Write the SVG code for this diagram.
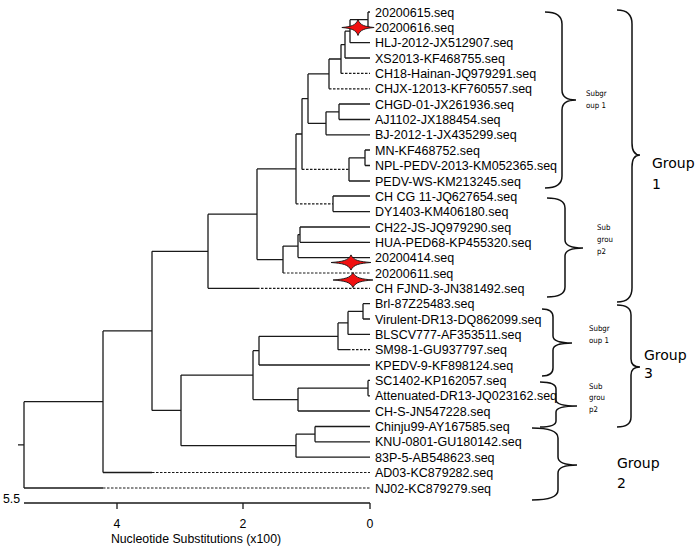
<svg xmlns="http://www.w3.org/2000/svg" width="700" height="552" viewBox="0 0 700 552">
<style>
.e{stroke:#1a1a1a;stroke-width:1.3;fill:none}
.d{stroke:#1a1a1a;stroke-width:1.2;fill:none;stroke-dasharray:2.5 1.5}
.br{stroke:#111;stroke-width:1.5;fill:none}
.lb{font-family:"Liberation Sans",Arial,sans-serif;font-size:12.5px;fill:#000}
.ax{font-family:"Liberation Sans",Arial,sans-serif;font-size:12.3px;fill:#000}
.sg{font-family:"DejaVu Sans Condensed","DejaVu Sans",Verdana,sans-serif;font-size:7.8px;fill:#000}
.gp{font-family:"DejaVu Sans",Verdana,sans-serif;font-size:14px;fill:#000}
.st{fill:#f01010;stroke:#111;stroke-width:0.9;stroke-linejoin:miter}
</style>
<defs>
<path id="star" d="M-19,0C-8,-1 -2.5,-2 0,-8C2.5,-2 8,-1 19,0C8,1 2.5,2 0,8C-2.5,2 -8,1 -19,0Z"/>
</defs>
<rect width="700" height="552" fill="#fff"/>
<g id="connectors">
<path class="e" d="M368,12V27.4M368,12H370M368,27.4H370
M350,19.7V42.7M350,19.7H368M350,42.7H370
M345,31.2V58M345,31.2H350M345,58H370
M341,44.6V73.4M341,44.6H345
M329,59V88.8M329,59H341
M339,104V119.5M339,104H370M339,119.5H370
M326,111.8V134.8M326,111.8H339M326,134.8H370
M308,73.9V123.3M308,73.9H329M308,123.3H326
M365,150V165.5M365,150H370M365,165.5H370
M349,157.8V181M349,157.8H365M349,181H370
M302,98.6V169.4M302,98.6H308
M333,196V211.6M333,196H370M333,211.6H370
M296,134V203.8M296,134H302
M300,227V242.3M300,227H370M300,242.3H370
M298,234.6V257.6M298,234.6H300M298,257.6H370
M283,246.1V273M283,246.1H298
M257,168.9V259.6M257,168.9H296M257,259.6H283
M208,214.2V288.3M208,214.2H257M208,288.3H257
M363,303.7V319M363,303.7H370M363,319H370
M348,311.4V334.4M348,311.4H363M348,334.4H370
M338,322.9V349.7M338,322.9H348M338,349.7H348
M259,336.3V365M259,336.3H338M259,365H370
M368,380.4V395.8M368,380.4H370M368,395.8H370
M298,388.1V411M298,388.1H368M298,411H370
M253,350.7V399.6M253,350.7H259M253,399.6H298
M315,426.5V441.8M315,426.5H370M315,441.8H370
M296,434.2V457.2M296,434.2H315M296,457.2H370
M181,375.1V445.7M181,375.1H253M181,445.7H296
M152,251.3V410.4M152,251.3H208M152,410.4H181
M103,330.9V472.5M103,330.9H152M103,472.5H152
M24,401.7V488M24,401.7H103M24,488H103M18,444.8H24"/>
<path class="d" d="M341,73.4H370M329,88.8H370M302,169.4H349M296,203.8H333M283,273H370M257,288.3H370M348,349.7H370M152,472.5H370M103,488H370"/>
</g>
<g id="stars">
<use href="#star" class="st" transform="translate(358,27.5) scale(0.85,1)"/>
<use href="#star" class="st" transform="translate(351,262.5) scale(1.05,0.95)"/>
<use href="#star" class="st" transform="translate(353,280) scale(1.05,0.95)"/>
</g>
<g id="leaves">
<g id="n0"><text class="lb" x="375" y="16.5">20200615.seq</text></g>
<g id="n1"><text class="lb" x="375" y="31.9">20200616.seq</text></g>
<g id="n2"><text class="lb" x="375" y="47.2">HLJ-2012-JX512907.seq</text></g>
<g id="n3"><text class="lb" x="375" y="62.5">XS2013-KF468755.seq</text></g>
<g id="n4"><text class="lb" x="375" y="77.9">CH18-Hainan-JQ979291.seq</text></g>
<g id="n5"><text class="lb" x="375" y="93.3">CHJX-12013-KF760557.seq</text></g>
<g id="n6"><text class="lb" x="375" y="108.5">CHGD-01-JX261936.seq</text></g>
<g id="n7"><text class="lb" x="375" y="124">AJ1102-JX188454.seq</text></g>
<g id="n8"><text class="lb" x="375" y="139.3">BJ-2012-1-JX435299.seq</text></g>
<g id="n9"><text class="lb" x="375" y="154.5">MN-KF468752.seq</text></g>
<g id="n10"><text class="lb" x="375" y="170">NPL-PEDV-2013-KM052365.seq</text></g>
<g id="n11"><text class="lb" x="375" y="185.5">PEDV-WS-KM213245.seq</text></g>
<g id="n12"><text class="lb" x="375" y="200.5">CH CG 11-JQ627654.seq</text></g>
<g id="n13"><text class="lb" x="375" y="216.1">DY1403-KM406180.seq</text></g>
<g id="n14"><text class="lb" x="375" y="231.5">CH22-JS-JQ979290.seq</text></g>
<g id="n15"><text class="lb" x="375" y="246.8">HUA-PED68-KP455320.seq</text></g>
<g id="n16"><text class="lb" x="375" y="262.1">20200414.seq</text></g>
<g id="n17"><text class="lb" x="375" y="277.5">20200611.seq</text></g>
<g id="n18"><text class="lb" x="375" y="292.8">CH FJND-3-JN381492.seq</text></g>
<g id="n19"><text class="lb" x="375" y="308.2">Brl-87Z25483.seq</text></g>
<g id="n20"><text class="lb" x="375" y="323.5">Virulent-DR13-DQ862099.seq</text></g>
<g id="n21"><text class="lb" x="375" y="338.9">BLSCV777-AF353511.seq</text></g>
<g id="n22"><text class="lb" x="375" y="354.2">SM98-1-GU937797.seq</text></g>
<g id="n23"><text class="lb" x="375" y="369.5">KPEDV-9-KF898124.seq</text></g>
<g id="n24"><text class="lb" x="375" y="384.9">SC1402-KP162057.seq</text></g>
<g id="n25"><text class="lb" x="375" y="400.3">Attenuated-DR13-JQ023162.seq</text></g>
<g id="n26"><text class="lb" x="375" y="415.5">CH-S-JN547228.seq</text></g>
<g id="n27"><text class="lb" x="375" y="431">Chinju99-AY167585.seq</text></g>
<g id="n28"><text class="lb" x="375" y="446.3">KNU-0801-GU180142.seq</text></g>
<g id="n29"><text class="lb" x="375" y="461.7">83P-5-AB548623.seq</text></g>
<g id="n30"><text class="lb" x="375" y="477">AD03-KC879282.seq</text></g>
<g id="n31"><text class="lb" x="375" y="492.5">NJ02-KC879279.seq</text></g>
</g>
<g id="axis">
<path class="e" d="M24,503H370M117,503V509M243,503V509M370,503V509"/>
<text class="ax" x="3" y="503">5.5</text>
<text class="ax" x="117" y="528" text-anchor="middle">4</text>
<text class="ax" x="243" y="528" text-anchor="middle">2</text>
<text class="ax" x="370" y="528" text-anchor="middle">0</text>
<text class="ax" x="196" y="543" text-anchor="middle">Nucleotide Substitutions (x100)</text>
</g>
<g id="group1-sub1">
<path class="br" d="M545,12Q562,12 562,24L562,90Q562,100 576,100Q562,100 562,110L562,176Q562,188 545,188"/>
<text class="sg" x="586" y="96">Subgr</text><text class="sg" x="586" y="108">oup 1</text>
</g>
<g id="group1-sub2">
<path class="br" d="M547,198Q565,198 565,208L565,240Q565,248 583,248Q565,248 565,256L565,287Q565,297 547,297"/>
<text class="sg" x="597" y="230">Sub</text><text class="sg" x="597" y="242">grou</text><text class="sg" x="597" y="254">p2</text>
</g>
<g id="group1">
<path class="br" d="M617,10Q632,10 632,24L632,143Q632,155 640,155Q632,155 632,167L632,288Q632,302 617,302"/>
<text class="gp" x="652" y="168">Group</text><text class="gp" x="652" y="189">1</text>
</g>
<g id="group3-sub1">
<path class="br" d="M542,309Q553,309 553,317L553,336Q553,343 572,343Q553,343 553,350L553,368Q553,376 542,376"/>
<text class="sg" x="589" y="331">Subgr</text><text class="sg" x="589" y="343">oup 1</text>
</g>
<g id="group3-sub2">
<path class="br" d="M540,382Q556,382 556,389L556,400Q556,406 577,406Q556,406 556,412L556,421Q556,427 540,427"/>
<text class="sg" x="589" y="389">Sub</text><text class="sg" x="589" y="400">grou</text><text class="sg" x="589" y="412">p2</text>
</g>
<g id="group3">
<path class="br" d="M617,305Q631,305 631,315L631,359Q631,367 640,367Q631,367 631,375L631,417Q631,427 617,427"/>
<text class="gp" x="644" y="360">Group</text><text class="gp" x="644" y="378">3</text>
</g>
<g id="group2">
<path class="br" d="M532,428Q558,428 558,438L558,457Q558,465 577,465Q558,465 558,473L558,490Q558,500 532,500"/>
<text class="gp" x="617" y="468">Group</text><text class="gp" x="617" y="488">2</text>
</g>
</svg>
